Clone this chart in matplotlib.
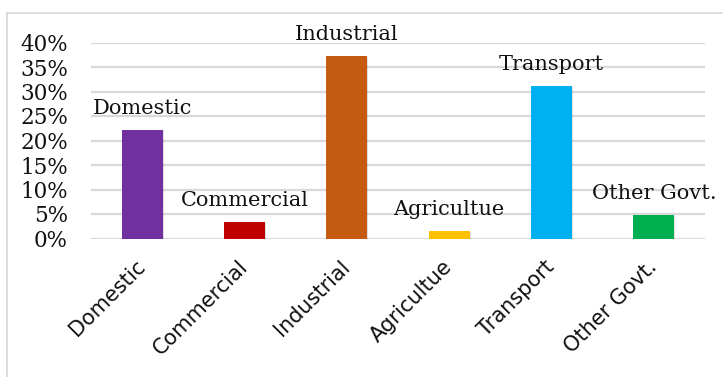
import matplotlib
matplotlib.use("Agg")
import matplotlib.pyplot as plt
from matplotlib.ticker import PercentFormatter, MultipleLocator
from matplotlib.patches import Rectangle
import matplotlib.patheffects as pe

categories = ["Domestic", "Commercial", "Industrial", "Agricultue", "Transport", "Other Govt."]
shares = [0.221, 0.034, 0.372, 0.016, 0.311, 0.048]
bar_colors = ["#7030A0", "#C00000", "#C55A11", "#FFC000", "#00B0F0", "#00B050"]

W, H = 723, 377
fig = plt.figure(figsize=(W / 100, H / 100), dpi=100)

# light frame around the chart area
fig.patches.append(Rectangle((7 / W, -0.1), 1.2, (H - 13) / H + 0.1,
                             transform=fig.transFigure, fill=False,
                             edgecolor="#d9d9d9", linewidth=1.3))

ax = fig.add_axes([91 / W, (H - 238.5) / H, (705 - 91) / W, 196 / H])
x = list(range(len(categories)))
bars = ax.bar(x, shares, width=0.4, color=bar_colors, zorder=3)
for b in bars:
    b.set_path_effects([pe.SimplePatchShadow(offset=(0.8, -0.8), shadow_rgbFace="#000000", alpha=0.12),
                        pe.Normal()])

ax.set_xlim(-0.5, len(categories) - 0.5)
ax.set_ylim(0, 0.40)
ax.yaxis.set_major_locator(MultipleLocator(0.05))
ax.yaxis.set_major_formatter(PercentFormatter(xmax=1, decimals=0))
ax.grid(axis="y", color="#d9d9d9", linewidth=1.6, zorder=0)
ax.set_axisbelow(True)
for s in ax.spines.values():
    s.set_visible(False)

ax.tick_params(axis="y", length=0, pad=16.5, labelsize=15.5, labelcolor="#111111")
for t in ax.get_yticklabels():
    t.set_fontfamily("DejaVu Serif")

ax.set_xticks(x)
ax.set_xticklabels(categories, rotation=45, ha="right", va="center",
                   rotation_mode="anchor", fontsize=15, fontfamily="DejaVu Sans",
                   color="#111111")
ax.tick_params(axis="x", length=0, pad=18)

for xi, v, name in zip(x, shares, categories):
    ax.annotate(name, (xi, v), xytext=(0, 11.5), textcoords="offset points",
                ha="center", va="baseline", fontsize=15, fontfamily="DejaVu Serif",
                color="#111111")

fig.savefig("out.png", dpi=100)
